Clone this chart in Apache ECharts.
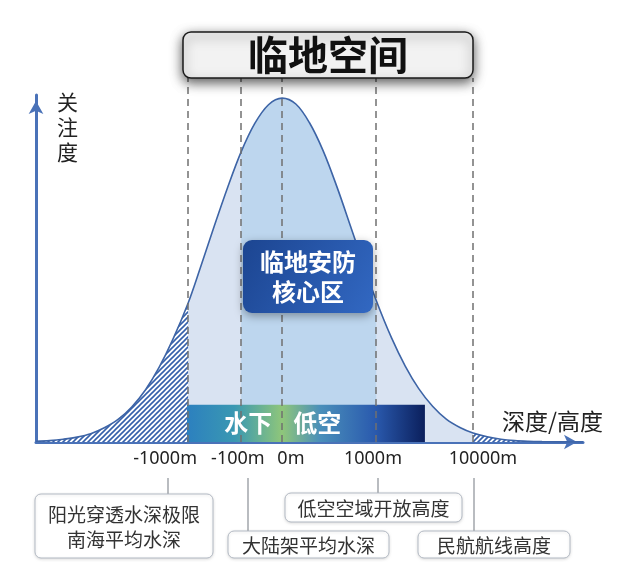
<!DOCTYPE html>
<html>
<head>
<meta charset="utf-8">
<script src="https://cdn.jsdelivr.net/npm/echarts@6/dist/echarts.min.js"></script>
<style>
html,body{margin:0;padding:0;background:#fff;}
#c{width:629px;height:577px;}
</style>
</head>
<body>
<div id="c"></div>
<script>
// ---------- data ----------
const curveX = [0, 2.5, 5, 7.5, 10, 12.5, 15, 17.5, 20, 22.5, 25, 27.8, 30, 32.5, 35, 37.5, 40, 42.5, 45,
                47.5, 50, 52.5, 55, 57.5, 60, 62.2, 65, 67.5, 70, 72.5, 75, 77.5, 79.9, 82.5, 85, 87.5, 90, 92.5, 95, 97.5, 100];
const curveY = [0.2, 0.4, 0.8, 1.4, 2.4, 4.1, 6.5, 10.1, 15.0, 21.5, 29.5, 40.0, 50.0, 61.8, 73.2, 83.6, 91.8, 97.2, 99.1,
                97.4, 92.0, 83.9, 73.6, 62.2, 50.6, 40.8, 30.0, 21.9, 15.3, 10.3, 6.6, 4.2, 2.6, 1.5, 0.8, 0.4, 0.2, 0.1, 0.05, 0, 0];
const guideX = [27.8, 37.5, 45, 62.2, 79.9];          // dashed guide lines
const tickPos = [23.6, 36.9, 46.6, 61.6, 81.7];       // tick label positions
const tickLabels = ['-1000m', '-100m', '0m', '1000m', '10000m'];
const hatchLeftEnd = 27.8;
const hatchRightStart = 79.9;
const coreRange = [37.5, 62.2];
const bandData = [[27.6, 71.1, 10.7]];                // x from, x to, top
const bandLabels = ['水下', '低空'];
const bandLabelX = [38.8, 51.4];
const bandLabelY = [5.5, 5.5];
const titleText = '临地空间';
const coreText = '临地安防\n核心区';
const noteTexts = ['阳光穿透水深极限\n南海平均水深', '大陆架平均水深', '低空空域开放高度', '民航航线高度'];
const xName = '深度/高度';
const yName = '关\n注\n度';

// ---------- layout (pixels) ----------
const noteBoxes = [[35, 494, 178, 64], [228, 531, 161, 27], [285, 493, 177, 29], [418, 531, 152, 27]];
const noteLeads = [[168, 478, 494], [248, 478, 531], [378, 478, 493], [474, 478, 531]];
const coreBox = [243, 240, 130, 73];

const CJK = '"Noto Sans CJK SC", "Noto Sans", sans-serif';
const AXIS_BLUE = '#4a72b8';

function seg(lo, hi) {
  return curveX.map((x, i) => [x, curveY[i]]).filter(p => p[0] >= lo - 1e-9 && p[0] <= hi + 1e-9);
}

// hatch pattern
const pc = document.createElement('canvas');
pc.width = 5; pc.height = 5;
const g = pc.getContext('2d');
g.fillStyle = '#ffffff'; g.fillRect(0, 0, 5, 5);
g.strokeStyle = '#3560aa'; g.lineWidth = 1.6;
g.beginPath();
g.moveTo(0, 5); g.lineTo(5, 0);
g.moveTo(-1, 1); g.lineTo(1, -1);
g.moveTo(4, 6); g.lineTo(6, 4);
g.stroke();
const hatch = { image: pc, repeat: 'repeat' };

const chart = echarts.init(document.getElementById('c'), null, { renderer: 'canvas' });

const graphics = [];
noteLeads.forEach(l => {
  graphics.push({ type: 'line', shape: { x1: l[0], y1: l[1], x2: l[0], y2: l[2] },
    style: { stroke: '#8a8f96', lineWidth: 1.2 }, z: 10 });
});
noteBoxes.forEach((b, i) => {
  graphics.push({ type: 'rect', shape: { x: b[0], y: b[1], width: b[2], height: b[3], r: 6 },
    style: { fill: '#ffffff', stroke: '#b3bac4', lineWidth: 1, shadowBlur: 3, shadowColor: 'rgba(0,0,0,0.12)', shadowOffsetY: 1 }, z: 11 });
  graphics.push({ type: 'text', x: b[0] + b[2] / 2, y: b[1] + b[3] / 2 + 1,
    style: { text: noteTexts[i], fill: '#333', font: '19px ' + CJK, align: 'center', verticalAlign: 'middle', lineHeight: 25 }, z: 12 });
});
graphics.push({ type: 'rect', shape: { x: coreBox[0], y: coreBox[1], width: coreBox[2], height: coreBox[3], r: 9 },
  style: { fill: new echarts.graphic.LinearGradient(0, 0, 1, 1, [{ offset: 0, color: '#1c4591' }, { offset: 1, color: '#3268c2' }]),
    shadowBlur: 10, shadowColor: 'rgba(0,0,0,0.35)', shadowOffsetY: 3 }, z: 20 });
graphics.push({ type: 'text', x: coreBox[0] + coreBox[2] / 2, y: coreBox[1] + coreBox[3] / 2,
  style: { text: coreText, fill: '#ffffff', font: 'bold 24px ' + CJK, align: 'center', verticalAlign: 'middle', lineHeight: 30 }, z: 21 });

const option = {
  animation: false,
  backgroundColor: '#ffffff',
  title: [{
    text: titleText, left: 183, top: 32,
    padding: [3, 65, 3, 65],
    backgroundColor: '#f2f2f2', borderColor: '#1a1a1a', borderWidth: 1.5, borderRadius: 8,
    shadowBlur: 12, shadowColor: 'rgba(0,0,0,0.65)', shadowOffsetY: 4,
    textStyle: { fontSize: 40, fontWeight: 'bold', color: '#111', fontFamily: CJK, lineHeight: 40 }
  }],
  grid: [
    { left: 36, right: 46, top: 95, bottom: 135 },
    { left: 36, right: 46, top: 78, bottom: 135 }
  ],
  xAxis: [{
    type: 'value', min: 0, max: 100, gridIndex: 0,
    axisLine: { show: true, lineStyle: { color: AXIS_BLUE, width: 3 }, symbol: ['none', 'arrow'], symbolSize: [11, 13], symbolOffset: [0, -6] },
    axisTick: { show: false }, splitLine: { show: false },
    axisLabel: {
      customValues: tickPos,
      formatter: v => { const i = tickPos.findIndex(p => Math.abs(p - v) < 1e-6); return i >= 0 ? tickLabels[i] : ''; },
      fontSize: 18, color: '#222', margin: 8, fontFamily: '"Noto Sans", sans-serif'
    },
    name: xName, nameLocation: 'end', nameGap: -81,
    nameTextStyle: { fontSize: 23, color: '#222', fontFamily: CJK, align: 'left', verticalAlign: 'bottom', padding: [0, 0, 9, 0] }
  }, {
    type: 'value', min: 0, max: 100, gridIndex: 1, show: false
  }],
  yAxis: [{
    type: 'value', min: 0, max: 100, gridIndex: 0,
    axisLine: { show: true, lineStyle: { color: AXIS_BLUE, width: 3 }, symbol: ['none', 'arrow'], symbolSize: [11, 13], symbolOffset: [0, -6] },
    axisTick: { show: false }, splitLine: { show: false }, axisLabel: { show: false },
    name: yName, nameLocation: 'end', nameGap: 5,
    nameTextStyle: { fontSize: 21, lineHeight: 25, color: '#222', fontFamily: CJK, align: 'left', verticalAlign: 'top', padding: [0, 0, 0, 21] }
  }, {
    type: 'value', min: 0, max: 1, gridIndex: 1, show: false
  }],
  series: [
    { name: 'light', type: 'line', data: seg(-1, 101), smooth: 0.35, symbol: 'none', silent: true,
      lineStyle: { width: 0 }, areaStyle: { color: '#d9e3f2', opacity: 1 }, z: 1 },
    { name: 'hatchL', type: 'line', data: seg(-1, hatchLeftEnd), smooth: 0.35, symbol: 'none', silent: true,
      lineStyle: { width: 0 }, areaStyle: { color: hatch, opacity: 1 }, z: 2 },
    { name: 'hatchR', type: 'line', data: seg(hatchRightStart, 101), smooth: 0.35, symbol: 'none', silent: true,
      lineStyle: { width: 0 }, areaStyle: { color: hatch, opacity: 1 }, z: 2 },
    { name: 'core', type: 'line', data: seg(coreRange[0], coreRange[1]), smooth: 0.35, symbol: 'none', silent: true,
      lineStyle: { width: 0 }, areaStyle: { color: '#bdd6ee', opacity: 1 }, z: 2 },
    { name: 'band', type: 'custom', data: bandData, silent: true, z: 3,
      renderItem: (params, api) => {
        const p0 = api.coord([api.value(0), api.value(2)]);
        const p1 = api.coord([api.value(1), 0]);
        return { type: 'rect', shape: { x: p0[0], y: p0[1], width: p1[0] - p0[0], height: p1[1] - p0[1] },
          style: { fill: new echarts.graphic.LinearGradient(0, 0, 1, 0, [
            { offset: 0, color: '#2c80bf' },
            { offset: 0.2, color: '#3a98b2' },
            { offset: 0.4, color: '#8fc67a' },
            { offset: 0.56, color: '#4a8fba' },
            { offset: 0.79, color: '#2a5aae' },
            { offset: 1, color: '#0b1f5c' }
          ]) } };
      } },
    { name: 'curve', type: 'line', data: seg(-1, 101), smooth: 0.35, symbol: 'none', silent: true,
      lineStyle: { color: '#3d64a6', width: 1.6 }, z: 4 },
    { name: 'bandLabels', type: 'custom', silent: true, z: 7,
      data: bandLabels.map((t, i) => [bandLabelX[i], bandLabelY[i], i]),
      renderItem: (params, api) => {
        const p = api.coord([api.value(0), api.value(1)]);
        return { type: 'text', x: p[0], y: p[1],
          style: { text: bandLabels[api.value(2)], fill: '#ffffff', font: 'bold 24px ' + CJK,
            align: 'center', verticalAlign: 'middle',
            shadowColor: 'rgba(0,0,0,0.35)', shadowBlur: 3, shadowOffsetY: 1 } };
      } },
    { name: 'guides', type: 'line', xAxisIndex: 1, yAxisIndex: 1, data: [], z: 5,
      markLine: { silent: true, symbol: ['none', 'none'], label: { show: false },
        lineStyle: { type: [7, 5], color: '#707070', width: 1.5 },
        emphasis: { disabled: true },
        data: guideX.map(x => ({ xAxis: x })) } }
  ],
  graphic: graphics
};
chart.setOption(option);
</script>
</body>
</html>
